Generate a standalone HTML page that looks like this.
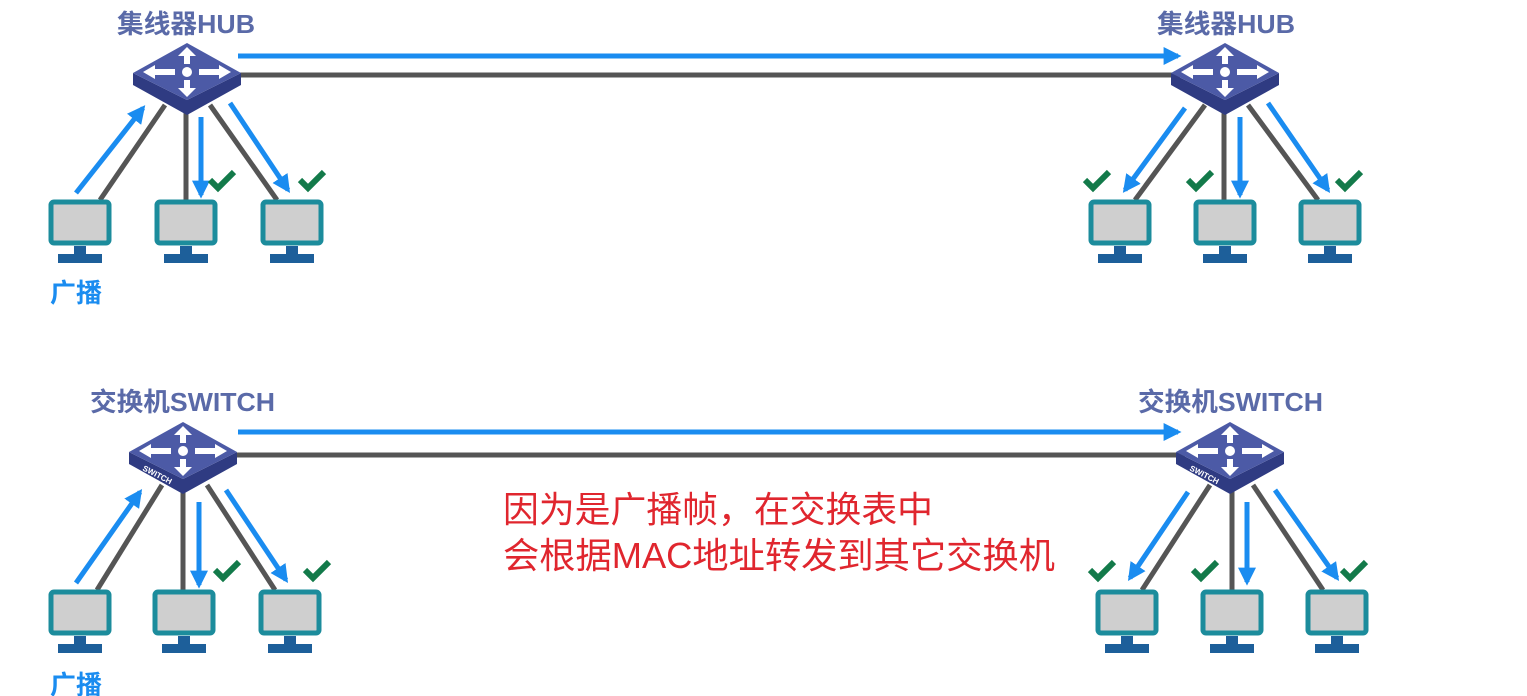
<!DOCTYPE html>
<html><head><meta charset="utf-8"><style>
html,body{margin:0;padding:0;background:#fff;}
svg{display:block;}
.lbl{font-family:"Liberation Sans","Noto Sans CJK SC",sans-serif;font-weight:bold;fill:#5a6aa8;font-size:26px;}
.red{font-family:"Liberation Sans","Noto Sans CJK SC",sans-serif;fill:#e0262e;font-size:36px;}
</style></head><body>
<svg width="1527" height="696" viewBox="0 0 1527 696" xmlns="http://www.w3.org/2000/svg">
<defs>
  <marker id="ah" viewBox="0 0 10 10" refX="8" refY="5" markerWidth="3.6" markerHeight="3.6" orient="auto">
    <path d="M0,0 L10,5 L0,10 z" fill="#1a8cf0"/>
  </marker>
  <g id="mon">
    <rect x="-29" y="2" width="58" height="41" rx="3" fill="#cfcfcf" stroke="#1c8c9c" stroke-width="5"/>
    <rect x="-6" y="46" width="12" height="8" fill="#1d5f9a"/>
    <rect x="-22" y="54" width="44" height="9" fill="#1d5f9a"/>
  </g>
  <g id="hub">
    <path d="M-54,0 L0,27 L54,0 L54,12 L0,42 L-54,12 z" fill="#2f3b82"/>
    <path d="M0,-30 L54,0 L0,27 L-54,0 z" fill="#4c5aa6"/>
    <g fill="#fff">
      <circle cx="0" cy="-1" r="5"/>
      <path d="M0,-26 L-9,-17 L-3,-17 L-3,-9 L3,-9 L3,-17 L9,-17 z"/>
      <path d="M0,24 L-9,15 L-3,15 L-3,7 L3,7 L3,15 L9,15 z"/>
      <path d="M-44,-1 L-32,-8 L-32,-4 L-12,-4 L-12,2 L-32,2 L-32,6 z"/>
      <path d="M44,-1 L32,-8 L32,-4 L12,-4 L12,2 L32,2 L32,6 z"/>
    </g>
  </g>
  <path id="chk" d="M0,6 L8,14 L24,-2" fill="none" stroke="#137a4a" stroke-width="6"/>
</defs>

<line x1="238" y1="56" x2="1178" y2="56" stroke="#1a8cf0" stroke-width="5" marker-end="url(#ah)"/>
<line x1="240" y1="75" x2="1180" y2="75" stroke="#555" stroke-width="5"/>
<line x1="238" y1="432" x2="1178" y2="432" stroke="#1a8cf0" stroke-width="5" marker-end="url(#ah)"/>
<line x1="236" y1="455" x2="1185" y2="455" stroke="#555" stroke-width="5"/>

<!-- Top-left -->
<text class="lbl" x="117" y="33" textLength="138" lengthAdjust="spacingAndGlyphs">集线器HUB</text>
<g stroke="#555" stroke-width="5">
  <line x1="165" y1="105" x2="100" y2="200"/>
  <line x1="186" y1="110" x2="186" y2="200"/>
  <line x1="210" y1="105" x2="277" y2="200"/>
</g>
<g stroke="#1a8cf0" stroke-width="5" marker-end="url(#ah)">
  <line x1="76" y1="193" x2="143" y2="108"/>
  <line x1="201" y1="117" x2="201" y2="195"/>
  <line x1="230" y1="103" x2="288" y2="190"/>
</g>
<use href="#hub" x="187" y="73"/>
<use href="#mon" x="80" y="200"/>
<use href="#mon" x="186" y="200"/>
<use href="#mon" x="292" y="200"/>
<use href="#chk" x="210" y="174"/>
<use href="#chk" x="300" y="174"/>
<text class="lbl" x="50" y="302" style="fill:#1a8cf0;font-size:26px">广播</text>

<!-- Top-right -->
<text class="lbl" x="1157" y="33" textLength="138" lengthAdjust="spacingAndGlyphs">集线器HUB</text>
<g stroke="#555" stroke-width="5">
  <line x1="1205" y1="105" x2="1135" y2="200"/>
  <line x1="1224" y1="110" x2="1224" y2="200"/>
  <line x1="1248" y1="105" x2="1318" y2="200"/>
</g>
<g stroke="#1a8cf0" stroke-width="5" marker-end="url(#ah)">
  <line x1="1185" y1="108" x2="1125" y2="190"/>
  <line x1="1240" y1="117" x2="1240" y2="195"/>
  <line x1="1268" y1="103" x2="1328" y2="190"/>
</g>
<use href="#hub" x="1225" y="73"/>
<use href="#mon" x="1120" y="200"/>
<use href="#mon" x="1225" y="200"/>
<use href="#mon" x="1330" y="200"/>
<use href="#chk" x="1085" y="174"/>
<use href="#chk" x="1188" y="174"/>
<use href="#chk" x="1337" y="174"/>

<!-- Bottom-left -->
<text class="lbl" x="90" y="411" textLength="185" lengthAdjust="spacingAndGlyphs">交换机SWITCH</text>
<g stroke="#555" stroke-width="5">
  <line x1="162" y1="485" x2="97" y2="590"/>
  <line x1="183" y1="490" x2="183" y2="590"/>
  <line x1="207" y1="485" x2="275" y2="590"/>
</g>
<g stroke="#1a8cf0" stroke-width="5" marker-end="url(#ah)">
  <line x1="76" y1="583" x2="140" y2="492"/>
  <line x1="199" y1="502" x2="199" y2="585"/>
  <line x1="226" y1="490" x2="286" y2="580"/>
</g>
<use href="#hub" x="183" y="452"/>
<text x="142" y="470" font-family="Liberation Sans,sans-serif" font-size="8" font-weight="bold" fill="#fff" transform="rotate(27 142 470)">SWITCH</text>
<use href="#mon" x="80" y="590"/>
<use href="#mon" x="184" y="590"/>
<use href="#mon" x="290" y="590"/>
<use href="#chk" x="215" y="564"/>
<use href="#chk" x="305" y="564"/>
<text class="lbl" x="50" y="694" style="fill:#1a8cf0;font-size:26px">广播</text>

<!-- Bottom-right -->
<text class="lbl" x="1138" y="411" textLength="185" lengthAdjust="spacingAndGlyphs">交换机SWITCH</text>
<g stroke="#555" stroke-width="5">
  <line x1="1210" y1="485" x2="1142" y2="590"/>
  <line x1="1232" y1="490" x2="1232" y2="590"/>
  <line x1="1253" y1="485" x2="1323" y2="590"/>
</g>
<g stroke="#1a8cf0" stroke-width="5" marker-end="url(#ah)">
  <line x1="1188" y1="492" x2="1130" y2="578"/>
  <line x1="1247" y1="502" x2="1247" y2="582"/>
  <line x1="1275" y1="490" x2="1337" y2="578"/>
</g>
<use href="#hub" x="1230" y="452"/>
<text x="1189" y="470" font-family="Liberation Sans,sans-serif" font-size="8" font-weight="bold" fill="#fff" transform="rotate(27 1189 470)">SWITCH</text>
<use href="#mon" x="1127" y="590"/>
<use href="#mon" x="1232" y="590"/>
<use href="#mon" x="1337" y="590"/>
<use href="#chk" x="1090" y="564"/>
<use href="#chk" x="1193" y="564"/>
<use href="#chk" x="1342" y="564"/>

<text class="red" x="503" y="522" textLength="430" lengthAdjust="spacingAndGlyphs">因为是广播帧，在交换表中</text>
<text class="red" x="503" y="568" textLength="552" lengthAdjust="spacingAndGlyphs">会根据MAC地址转发到其它交换机</text>
</svg>
</body></html>
